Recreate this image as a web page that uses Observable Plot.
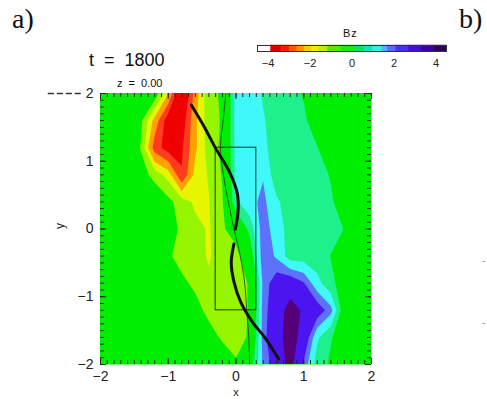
<!DOCTYPE html>
<html><head><meta charset="utf-8">
<script src="https://cdn.jsdelivr.net/npm/d3@7"></script>
<script src="https://cdn.jsdelivr.net/npm/@observablehq/plot@0.6"></script>
<style>
body{margin:0;background:#fff;}
#wrap{position:relative;width:487px;height:399px;overflow:hidden;font-family:"Liberation Sans",Arial,sans-serif;background:#fff;}
.lbl{position:absolute;white-space:pre;color:#111;line-height:1;}
</style></head><body>
<div id="wrap">
  <div id="main" style="position:absolute;left:0;top:0"></div>
  <div id="cbar" style="position:absolute;left:240px;top:18px"></div>
  <div class="lbl" style="left:12px;top:5px;font-family:'Liberation Serif',serif;font-size:28px">a)</div>
  <div class="lbl" style="left:459px;top:5px;font-family:'Liberation Serif',serif;font-size:28px">b)</div>
  <div class="lbl" style="left:89px;top:51px;font-size:18px;word-spacing:5px">t = 1800</div>
  <div class="lbl" style="left:117px;top:78px;font-size:11px;word-spacing:3px">z = 0.00</div>
  <div class="lbl" style="left:343px;top:28px;font-size:11px;letter-spacing:1px">Bz</div>
  <div class="lbl" style="left:482px;top:257px;font-size:9px;color:#666">-</div>
  <div class="lbl" style="left:482px;top:319px;font-size:9px;color:#666">-</div>
</div>
<script>
// grid sample positions (Bz sampled on a coarse grid)
const gridX = [-2.0,-1.8,-1.6,-1.4,-1.2,-1.0,-0.8,-0.6,-0.4,-0.2,0.0,0.2,0.4,0.6,0.8,1.0,1.2,1.4,1.6,1.8,2.0];
const gridY = [2.0,1.6,1.2,0.8,0.4,0.0,-0.4,-0.8,-1.2,-1.6,-2.0];
// Bz values, one row per gridY (top to bottom)
const bzGrid = [
  [-0.3,-0.3,-0.35,-0.4,-0.6,-2.0,-4.2,-2.3,-1.1,-0.95,1.3,1.3,0.95,0.7,0.6,0.35,0.0,-0.2,-0.3,-0.3,-0.3],
  [-0.3,-0.3,-0.5,-0.9,-2.2,-3.6,-3.6,-2.1,-1.2,-0.95,1.3,1.35,1.05,0.75,0.65,0.5,0.1,-0.2,-0.3,-0.3,-0.3],
  [-0.3,-0.3,-0.5,-1.05,-2.9,-3.5,-3.3,-2.1,-1.25,-0.9,1.25,1.4,1.1,0.8,0.7,0.6,0.42,0.0,-0.2,-0.3,-0.3],
  [-0.3,-0.3,-0.4,-0.75,-1.2,-1.7,-3.15,-1.8,-1.45,-0.95,1.2,1.5,1.55,0.6,0.7,0.7,0.65,0.35,-0.1,-0.3,-0.3],
  [-0.3,-0.3,-0.3,-0.35,-0.5,-0.85,-1.25,-1.6,-1.52,-1.05,0.9,1.4,1.75,1.1,0.7,0.7,0.7,0.5,0.0,-0.3,-0.3],
  [-0.3,-0.3,-0.3,-0.3,-0.45,-0.75,-1.1,-1.35,-1.55,-1.1,-0.6,0.6,1.9,1.3,0.75,0.7,0.7,0.65,0.38,-0.2,-0.3],
  [-0.3,-0.3,-0.3,-0.3,-0.4,-0.9,-1.25,-1.3,-1.56,-1.2,-1.3,-0.2,2.0,1.5,0.7,0.7,0.65,0.38,-0.1,-0.3,-0.3],
  [-0.3,-0.3,-0.3,-0.3,-0.35,-0.5,-0.85,-1.15,-1.4,-1.3,-1.25,-0.95,1.75,2.5,2.6,2.15,1.2,0.55,0.1,-0.3,-0.3],
  [-0.3,-0.3,-0.3,-0.3,-0.3,-0.35,-0.45,-0.75,-1.2,-1.3,-1.3,-0.95,1.85,2.6,3.3,2.9,2.5,1.8,-0.1,-0.3,-0.3],
  [-0.3,-0.3,-0.3,-0.3,-0.3,-0.3,-0.35,-0.45,-0.7,-1.1,-1.3,-0.9,1.9,2.7,3.35,2.7,1.1,0.45,0.0,-0.3,-0.3],
  [-0.3,-0.3,-0.3,-0.3,-0.3,-0.3,-0.3,-0.3,-0.35,-0.5,-0.9,-0.1,1.7,2.5,3.3,2.0,0.7,0.3,-0.2,-0.3,-0.3]
];
// contour levels and fill colours
const levels = [-10,-3.2,-2.6,-2.0,-1.5,-1.0,0.4,1.0,1.6,2.1,3.0];
const bandColors = ["#f00000","#ff3c1e","#ffa000","#e6f500","#96f500","#00ef00","#1ef08c","#40f8f8","#5c72fa","#4c14f0","#550077"];

// thick black field line (two pieces)
const blackUpX = [-0.66,-0.47,-0.30,-0.10,0.02,0.03,-0.01];
const blackUpY = [1.83,1.51,1.19,0.85,0.52,0.25,0.0];
const blackLoX = [-0.03,-0.07,-0.03,0.07,0.24,0.44,0.63];
const blackLoY = [-0.22,-0.49,-0.78,-1.08,-1.37,-1.62,-1.92];
// thin dark green line
const thinX = [-0.15,-0.19,-0.23,-0.19,-0.11,-0.03,0.04,0.12,0.16,0.19,0.20];
const thinY = [2.0,1.6,1.21,0.82,0.38,0.0,-0.29,-0.73,-1.22,-1.62,-2.0];
// box
const boxX = [-0.3, 0.3];
const boxY = [-1.2, 1.2];
// dashed stub left of the frame
const dashX = [-2.77, -2.30];
const dashY = [2.0, 2.0];
// axes
const axisTicks = [-2,-1,0,1,2];
const minorTicks = d3.range(-20, 21).map(i => i / 10);

// colour bar
const cbStops = [-4.5,-3.85,-3.35,-2.95,-2.6,-2.25,-1.9,-1.55,-1.15,-0.5,0.2,0.6,1.0,1.45,1.7,2.1,2.7,3.3,3.9];
const cbEndValue = 4.5;
const cbColors = ["#ffffff","#dd0000","#f01e00","#ff5a00","#ff9600","#ffc800","#f0ee00","#b4f000","#5ae600","#1ee61e","#00e664","#10e8b0","#3ce8e8","#50b4f0","#5a6ef0","#4a32e8","#4210d0","#3c00a0","#32005a"];
const cbTicks = [-4,-2,0,2,4];

const dx = gridX[1] - gridX[0];
const dy = gridY[0] - gridY[1];
const values = bzGrid.flat();
const pts = (xs, ys) => xs.map((x, i) => ({x, y: ys[i]}));
const intFmt = d3.format("d");
const FRAME = 271;   // frame size in px
const tickLen = 4, majLen = 6;
const tickColor = "#1e2a1e";

const main = Plot.plot({
  width: 487, height: 399,
  marginLeft: 100, marginRight: 116, marginTop: 93, marginBottom: 35,
  style: {fontFamily: "Liberation Sans, Arial, sans-serif", fontSize: "14px", color: "#222", background: "transparent", overflow: "visible"},
  x: {domain: [-2, 2], axis: null},
  y: {domain: [-2, 2], axis: null},
  color: {type: "threshold", domain: levels.slice(1), range: bandColors},
  marks: [
    Plot.frame({fill: bandColors[5]}),
    Plot.contour(values, {
      width: gridX.length, height: gridY.length,
      x1: gridX[0] - dx / 2, x2: gridX[gridX.length - 1] + dx / 2,
      y1: gridY[0] + dy / 2, y2: gridY[gridY.length - 1] - dy / 2,
      fill: Plot.identity, thresholds: levels, stroke: "none", clip: true
    }),
    Plot.line(pts(thinX, thinY), {x: "x", y: "y", stroke: "#2d5a1e", strokeWidth: 1, curve: "catmull-rom", clip: true}),
    Plot.rect([{x1: boxX[0], x2: boxX[1], y1: boxY[0], y2: boxY[1]}], {x1: "x1", x2: "x2", y1: "y1", y2: "y2", fill: "none", stroke: "#1c3030", strokeWidth: 1}),
    Plot.line(pts(blackUpX, blackUpY), {x: "x", y: "y", stroke: "#111", strokeWidth: 3, curve: "catmull-rom"}),
    Plot.line(pts(blackLoX, blackLoY), {x: "x", y: "y", stroke: "#111", strokeWidth: 3, curve: "catmull-rom"}),
    Plot.line(pts(dashX, dashY), {x: "x", y: "y", stroke: "#333", strokeWidth: 1.5, strokeDasharray: "5,4"}),
    // inward minor ticks on all four sides
    Plot.tickX(minorTicks, {x: d => d, insetTop: FRAME - tickLen, stroke: tickColor}),
    Plot.tickX(minorTicks, {x: d => d, insetBottom: FRAME - tickLen, stroke: tickColor}),
    Plot.tickY(minorTicks, {y: d => d, insetRight: FRAME - tickLen, stroke: tickColor}),
    Plot.tickY(minorTicks, {y: d => d, insetLeft: FRAME - tickLen, stroke: tickColor}),
    // slightly longer major ticks
    Plot.tickX(axisTicks, {x: d => d, insetTop: FRAME - majLen, stroke: tickColor}),
    Plot.tickX(axisTicks, {x: d => d, insetBottom: FRAME - majLen, stroke: tickColor}),
    Plot.tickY(axisTicks, {y: d => d, insetRight: FRAME - majLen, stroke: tickColor}),
    Plot.tickY(axisTicks, {y: d => d, insetLeft: FRAME - majLen, stroke: tickColor}),
    Plot.axisX(axisTicks, {anchor: "bottom", tickSize: 0, tickPadding: 7, label: null, fontSize: 14, tickFormat: intFmt}),
    Plot.axisY(axisTicks, {anchor: "left", tickSize: 0, tickPadding: 7, label: null, fontSize: 14, tickFormat: intFmt}),
    Plot.text(["x"], {frameAnchor: "bottom", dy: 31, fontSize: 11}),
    Plot.text(["y"], {frameAnchor: "left", dx: -40, rotate: -90, fontSize: 12})
  ]
});
document.getElementById("main").appendChild(main);

const cbData = cbStops.map((s, i) => ({x1: s, x2: i + 1 < cbStops.length ? cbStops[i + 1] : cbEndValue, c: cbColors[i]}));
const cbar = Plot.plot({
  width: 220, height: 60,
  marginLeft: 17, marginRight: 14, marginTop: 27, marginBottom: 27,
  style: {fontFamily: "Liberation Sans, Arial, sans-serif", fontSize: "11px", color: "#222", background: "transparent", overflow: "visible"},
  x: {domain: [-4.5, 4.5], axis: null},
  y: {domain: [0, 1], axis: null},
  color: {type: "identity"},
  marks: [
    Plot.rect(cbData, {x1: "x1", x2: "x2", y1: 0, y2: 1, fill: "c", stroke: "c", strokeWidth: 0.5}),
    Plot.frame({stroke: "#333", strokeWidth: 1}),
    Plot.axisX(cbTicks, {anchor: "bottom", tickSize: 0, tickPadding: 8, label: null, fontSize: 11, tickFormat: intFmt})
  ]
});
document.getElementById("cbar").appendChild(cbar);
</script>
</body></html>
